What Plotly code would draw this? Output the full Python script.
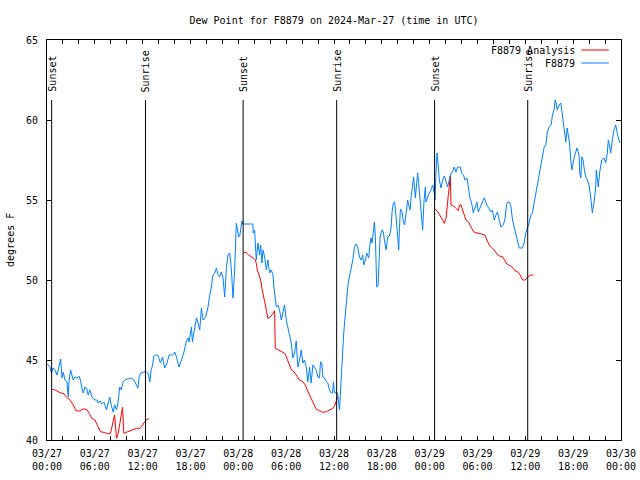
import pandas as pd
import plotly.graph_objects as go

# ---------------- data ----------------
base_time = "2024-03-27 00:00"
title_text = "Dew Point for F8879 on 2024-Mar-27 (time in UTC)"
y_label = "degrees F"
series_names = ["F8879 Analysis", "F8879"]
series_colors = ["#ff0000", "#0080ff"]

# observed dew point (hours after base_time, degrees F)
obs_hours = [
    0.06, 0.38, 0.56, 0.75, 1.0, 1.25, 1.71, 1.88, 2.04, 2.25, 2.5, 2.67, 2.75, 2.96, 3.13, 3.29, 3.5, 3.75,
    4.0, 4.19, 4.38, 4.54, 4.75, 4.96, 5.17, 5.38, 5.63, 6.0, 6.25, 6.42, 6.63, 6.88, 7.13, 7.46, 7.63, 7.88,
    8.06, 8.29, 8.5, 8.71, 8.88, 9.13, 9.33, 9.54, 9.75, 10.13, 10.5, 10.9, 11.15, 11.4, 11.58, 11.77, 12.15,
    12.52, 12.71, 12.9, 13.06, 13.23, 13.4, 13.65, 13.9, 14.23, 14.48, 14.77, 15.06, 15.31, 15.77, 16.03,
    16.24, 16.56, 16.87, 17.15, 17.49, 17.69, 17.82, 18.12, 18.24, 18.53, 18.74, 18.95, 19.16, 19.37, 19.57,
    19.91, 20.2, 20.41, 20.62, 20.82, 21.04, 21.25, 21.45, 21.66, 21.87, 22.08, 22.29, 22.5, 22.7, 22.92,
    23.13, 23.33, 23.54, 23.75, 23.92, 24.04, 24.17, 24.33, 24.46, 24.58, 24.88, 25.2, 25.83, 25.86, 26.04,
    26.25, 26.46, 26.67, 26.8, 26.96, 27.09, 27.3, 27.51, 27.71, 27.92, 28.13, 28.34, 28.46, 28.64, 28.76,
    28.96, 29.17, 29.39, 29.59, 29.8, 30.01, 30.22, 30.43, 30.64, 30.84, 31.05, 31.26, 31.47, 31.68, 31.89,
    32.09, 32.3, 32.51, 32.72, 32.93, 33.14, 33.35, 33.56, 33.77, 33.97, 34.18, 34.31, 34.47, 34.6, 34.81,
    35.06, 35.22, 35.43, 35.64, 35.81, 35.94, 36.06, 36.44, 36.69, 36.9, 37.03, 37.19, 37.32, 37.44, 37.6,
    37.73, 37.85, 38.03, 38.15, 38.36, 38.57, 38.78, 38.98, 39.19, 39.4, 39.6, 39.73, 39.94, 40.1, 40.35,
    40.53, 40.65, 40.78, 40.94, 41.07, 41.19, 41.36, 41.53, 41.61, 41.78, 42.03, 42.19, 42.32, 42.53, 42.74,
    42.95, 43.16, 43.28, 43.45, 43.61, 43.79, 43.99, 44.12, 44.2, 44.33, 44.54, 44.7, 44.86, 45.04, 45.24,
    45.37, 45.54, 45.7, 45.87, 45.99, 46.2, 46.37, 46.49, 46.62, 46.79, 46.92, 47.12, 47.3, 47.46, 47.54,
    47.75, 47.96, 48.17, 48.37, 48.58, 48.67, 48.79, 48.92, 49.09, 49.21, 49.42, 49.62, 49.84, 50.05, 50.25,
    50.46, 50.68, 50.88, 51.09, 51.3, 51.51, 51.85, 52.0, 52.25, 52.43, 52.68, 52.85, 53.05, 53.26, 53.47,
    53.68, 53.93, 54.09, 54.35, 54.63, 54.85, 55.18, 55.47, 55.68, 55.88, 56.1, 56.31, 56.51, 56.73, 56.93,
    57.22, 57.43, 57.68, 57.97, 58.18, 58.39, 58.6, 58.81, 59.02, 59.23, 59.64, 59.85, 60.06, 60.26, 60.47,
    60.69, 60.89, 61.1, 61.31, 61.52, 61.73, 61.94, 62.14, 62.36, 62.57, 62.77, 62.98, 63.24, 63.4, 63.61,
    63.73, 63.86, 63.99, 64.24, 64.45, 64.57, 64.74, 64.86, 65.08, 65.24, 65.4, 65.53, 65.7, 65.83, 65.99,
    66.2, 66.49, 66.74, 66.83, 66.96, 67.08, 67.25, 67.37, 67.58, 67.78, 67.99, 68.2, 68.4, 68.61, 68.83,
    68.9, 69.02, 69.15, 69.33, 69.58, 69.87, 70.08, 70.28, 70.41, 70.58, 70.71, 70.91, 71.12, 71.33, 71.49,
    71.66, 71.87,
]
obs_dewpoint = [
    44.75, 44.56, 44.19, 44.5, 44.38, 44.06, 45.06, 43.88, 44.25, 43.75, 43.63, 42.69, 43.63, 44.38, 44.06,
    43.75, 43.94, 43.88, 44.0, 43.75, 43.25, 42.94, 43.31, 43.25, 42.81, 43.13, 42.69, 42.5, 42.5, 42.31,
    42.44, 42.25, 42.38, 41.88, 42.25, 42.69, 42.19, 41.75, 42.19, 41.88, 42.25, 43.31, 43.13, 43.63, 43.75,
    43.81, 43.88, 43.75, 43.5, 43.25, 44.0, 44.19, 44.25, 44.25, 44.13, 43.63, 44.38, 44.63, 45.25, 45.31,
    45.31, 44.81, 45.19, 44.5, 44.81, 45.31, 45.31, 45.5, 45.19, 44.56, 45.0, 45.44, 46.19, 46.38, 46.13,
    47.06, 46.13, 47.0, 47.63, 47.31, 46.88, 48.25, 47.5, 47.69, 48.31, 49.06, 49.56, 50.31, 50.44, 50.75,
    50.31, 50.19, 50.5, 50.13, 48.94, 50.75, 51.56, 51.69, 50.63, 48.88, 50.63, 53.56, 53.0, 52.69, 52.75,
    53.44, 53.69, 53.5, 53.5, 53.5, 53.5, 52.94, 53.13, 51.25, 52.31, 51.56, 52.19, 51.06, 51.88, 51.44,
    50.63, 51.25, 50.44, 50.63, 50.31, 49.56, 48.75, 48.31, 48.44, 48.13, 47.5, 48.0, 48.44, 47.5, 47.06,
    46.44, 46.06, 45.13, 45.44, 46.19, 44.56, 45.0, 45.63, 44.81, 45.0, 44.56, 43.63, 44.56, 43.56, 44.69,
    44.56, 44.38, 43.94, 43.88, 44.88, 44.81, 43.94, 43.88, 43.63, 43.56, 43.13, 42.94, 42.94, 43.63, 42.94,
    42.94, 41.88, 44.19, 44.81, 46.44, 47.31, 48.13, 48.94, 49.56, 50.0, 50.44, 50.75, 51.25, 52.06, 52.25,
    52.06, 51.44, 51.25, 51.56, 50.94, 51.25, 51.69, 51.38, 52.31, 52.63, 52.31, 53.13, 53.63, 52.69, 49.56,
    49.69, 50.44, 52.69, 53.13, 53.0, 52.5, 51.88, 52.69, 52.75, 53.25, 54.25, 54.81, 54.88, 53.94, 52.69,
    51.88, 53.13, 54.44, 54.25, 53.63, 53.44, 54.19, 55.0, 54.69, 54.38, 55.31, 56.06, 56.44, 55.13, 56.13,
    56.69, 56.06, 55.0, 53.94, 53.13, 55.0, 55.81, 54.88, 55.19, 55.44, 55.63, 55.94, 55.44, 55.0, 56.69,
    57.94, 57.06, 56.25, 55.75, 56.25, 56.5, 56.13, 55.81, 56.25, 56.69, 56.75, 57.06, 56.75, 57.06, 57.06,
    56.69, 56.56, 56.25, 56.38, 55.75, 55.13, 54.81, 54.19, 54.5, 54.88, 54.25, 54.56, 54.88, 55.13, 54.69,
    54.38, 54.25, 54.38, 53.75, 54.06, 54.25, 53.75, 53.31, 53.44, 53.75, 54.81, 54.88, 54.63, 53.75, 53.31,
    52.81, 52.38, 52.0, 52.0, 52.31, 52.94, 53.25, 53.56, 54.06, 54.19, 54.81, 55.44, 55.81, 56.56, 57.31,
    57.69, 58.31, 58.44, 59.25, 59.56, 59.69, 60.31, 60.63, 61.25, 61.06, 60.63, 60.94, 61.06, 60.63, 60.0,
    59.38, 58.63, 59.5, 59.06, 58.63, 57.5, 56.88, 57.31, 57.81, 58.25, 57.81, 56.69, 56.38, 57.69, 57.5,
    57.0, 56.44, 56.25, 55.94, 55.19, 54.19, 54.81, 55.81, 56.88, 56.44, 55.81, 56.75, 57.5, 57.63, 57.31,
    57.94, 58.75, 58.31, 57.94, 58.75, 59.38, 59.69, 59.25, 58.88, 58.56,
]

# analysis dew point, three separate runs (hours, degrees F)
ana1_hours = [0.59, 1.0, 1.63, 2.13, 2.38, 2.88, 3.29, 3.63, 4.04, 4.55, 4.97, 5.3, 5.6, 6.01, 6.3, 6.72,
              7.26, 7.68, 7.97, 8.22, 8.47, 8.72, 8.93, 9.14, 9.47, 9.64, 9.97, 10.39, 10.81, 11.23, 11.64,
              11.85, 12.27, 12.56, 12.81]
ana1_dewpoint = [43.17, 43.13, 42.96, 42.88, 42.71, 42.5, 42.19, 41.83, 41.81, 41.94, 41.92, 41.67, 41.35,
                 41.25, 40.94, 40.52, 40.46, 40.38, 40.42, 40.94, 41.56, 40.1, 40.42, 41.04, 42.04, 40.42,
                 40.48, 40.58, 40.67, 40.73, 40.73, 40.83, 41.15, 41.29, 41.33]
ana2_hours = [24.71, 25.0, 25.29, 25.63, 25.96, 26.13, 26.26, 26.38, 26.55, 26.8, 26.96, 27.21, 27.38, 27.55,
              27.71, 27.92, 28.13, 28.34, 28.55, 28.63, 28.97, 29.38, 29.8, 30.01, 30.22, 30.43, 30.64, 30.97,
              31.26, 31.68, 32.09, 32.39, 32.64, 32.93, 33.22, 33.47, 33.77, 34.18, 34.6, 35.02, 35.44, 35.85,
              36.06, 36.28, 36.48]
ana2_dewpoint = [51.73, 51.71, 51.56, 51.46, 51.35, 51.25, 51.04, 50.63, 50.31, 50.0, 49.48, 48.96, 48.44,
                 48.02, 47.6, 47.67, 47.75, 47.92, 48.08, 45.73, 45.63, 45.52, 45.42, 45.21, 44.9, 44.58,
                 44.38, 44.27, 44.06, 43.75, 43.65, 43.44, 43.13, 42.81, 42.6, 42.29, 41.92, 41.83, 41.73,
                 41.77, 41.88, 41.98, 42.13, 42.4, 42.71]
ana3_hours = [48.67, 49.0, 49.34, 49.62, 49.84, 50.05, 50.17, 50.34, 50.46, 50.59, 50.68, 51.0, 51.3, 51.59,
              51.75, 51.93, 52.13, 52.34, 52.55, 52.84, 53.18, 53.5, 53.8, 54.22, 54.63, 54.93, 55.18, 55.47,
              55.76, 56.1, 56.43, 56.72, 57.14, 57.43, 57.68, 58.1, 58.39, 58.69, 59.02, 59.35, 59.64, 59.94,
              60.26, 60.6, 61.02]
ana3_dewpoint = [54.44, 54.27, 54.0, 53.75, 53.54, 53.85, 54.69, 55.31, 55.83, 56.5, 54.69, 54.63, 54.48,
                 54.33, 54.69, 54.69, 54.38, 54.06, 53.75, 53.65, 53.33, 53.02, 52.96, 52.92, 52.88, 52.81,
                 52.5, 52.19, 52.04, 51.88, 51.63, 51.5, 51.46, 51.25, 51.0, 50.88, 50.79, 50.58, 50.52,
                 50.31, 50.0, 50.0, 50.17, 50.31, 50.31]

# sunset / sunrise markers
sun_event_times = ["2024-03-27 00:35", "2024-03-27 12:21", "2024-03-28 00:36",
                   "2024-03-28 12:20", "2024-03-29 00:37", "2024-03-29 12:18"]
sun_event_labels = ["Sunset", "Sunrise", "Sunset", "Sunrise", "Sunset", "Sunrise"]

# axes
x_start = "2024-03-27 00:00"
x_end = "2024-03-30 00:00"
x_tick_times = ["2024-03-27 00:00", "2024-03-27 06:00", "2024-03-27 12:00", "2024-03-27 18:00",
                "2024-03-28 00:00", "2024-03-28 06:00", "2024-03-28 12:00", "2024-03-28 18:00",
                "2024-03-29 00:00", "2024-03-29 06:00", "2024-03-29 12:00", "2024-03-29 18:00",
                "2024-03-30 00:00"]
x_tick_labels = ["03/27<br>00:00", "03/27<br>06:00", "03/27<br>12:00", "03/27<br>18:00",
                 "03/28<br>00:00", "03/28<br>06:00", "03/28<br>12:00", "03/28<br>18:00",
                 "03/29<br>00:00", "03/29<br>06:00", "03/29<br>12:00", "03/29<br>18:00",
                 "03/30<br>00:00"]
y_min, y_max, y_step = 40, 65, 5

# ---------------- build ----------------
t0 = pd.Timestamp(base_time)


def to_time(hours):
    return [t0 + pd.Timedelta(hours=h) for h in hours]


ana_x, ana_y = [], []
for hrs, vals in [(ana1_hours, ana1_dewpoint), (ana2_hours, ana2_dewpoint), (ana3_hours, ana3_dewpoint)]:
    ana_x += to_time(hrs) + [None]
    ana_y += vals + [None]

FONT = "DejaVu Sans Mono"
fig = go.Figure()
fig.add_trace(go.Scatter(x=ana_x, y=ana_y, mode="lines", name=series_names[0],
                         line=dict(color=series_colors[0], width=1), connectgaps=False,
                         showlegend=False))
fig.add_trace(go.Scatter(x=to_time(obs_hours), y=obs_dewpoint, mode="lines", name=series_names[1],
                         line=dict(color=series_colors[1], width=1), showlegend=False))

for t, lab in zip(sun_event_times, sun_event_labels):
    fig.add_shape(type="line", xref="x", yref="paper", x0=t, x1=t, y0=0, y1=0.85,
                  line=dict(color="black", width=1))
    fig.add_annotation(x=t, xref="x", y=0.865, yref="paper", text=lab, textangle=-90,
                       showarrow=False, xanchor="center", yanchor="bottom",
                       font=dict(family=FONT, size=10, color="black"))

# legend (text right-aligned, sample line to the right, gnuplot style)
legend_rows = [0.975, 0.9425]
for name, color, yy in zip(series_names, series_colors, legend_rows):
    fig.add_annotation(x=0.923, xref="paper", y=yy, yref="paper", text=name, showarrow=False,
                       xanchor="right", yanchor="middle", font=dict(family=FONT, size=10, color="black"))
    fig.add_shape(type="line", xref="paper", yref="paper", x0=0.9307, x1=0.9787, y0=yy, y1=yy,
                  line=dict(color=color, width=1))

fig.add_annotation(x=-0.0645, xref="paper", y=0.5, yref="paper", text=y_label, textangle=-90,
                   showarrow=False, xanchor="center", yanchor="middle",
                   font=dict(family=FONT, size=10, color="black"))

fig.update_layout(
    width=640, height=480,
    margin=dict(l=47, r=19, t=40, b=40, autoexpand=False),
    paper_bgcolor="white", plot_bgcolor="white",
    font=dict(family=FONT, size=10, color="black"),
    title=dict(text=title_text, x=0.5, xref="paper", y=1 - 20 / 480, yref="container",
               xanchor="center", yanchor="middle", font=dict(family=FONT, size=10, color="black")),
    showlegend=False,
)
fig.update_xaxes(
    range=[x_start, x_end], showgrid=False, zeroline=False, automargin=False,
    showline=True, linecolor="black", linewidth=1, mirror="allticks",
    ticks="inside", ticklen=4, tickcolor="black", ticklabelstandoff=4,
    tickmode="array", tickvals=x_tick_times, ticktext=x_tick_labels,
    minor=dict(tickmode="linear", tick0=x_start, dtick=2 * 3600 * 1000, ticks="inside",
               ticklen=4, tickcolor="black", showgrid=False),
    tickfont=dict(family=FONT, size=10, color="black"),
)
fig.update_yaxes(
    range=[y_min, y_max], dtick=y_step, tick0=y_min, showgrid=False, zeroline=False,
    automargin=False, ticklabelstandoff=6,
    showline=True, linecolor="black", linewidth=1, mirror="allticks",
    ticks="inside", ticklen=5, tickcolor="black",
    tickfont=dict(family=FONT, size=10, color="black"),
)

fig.write_html("out.html", config={"displayModeBar": False},
               post_script="document.body.style.margin='0';")
